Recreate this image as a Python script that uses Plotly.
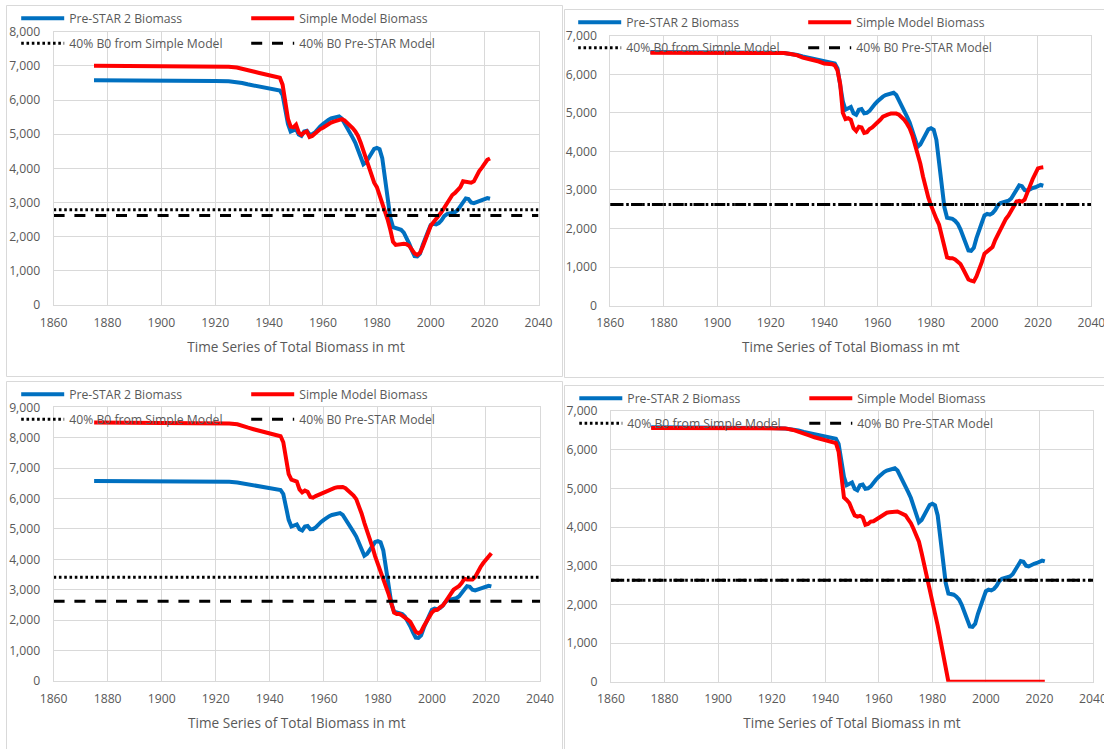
import plotly.graph_objects as go

W, H = 1104, 749

# ---- data -------------------------------------------------------------
years = [1875, 1880, 1885, 1890, 1895, 1900, 1905, 1910, 1915, 1920, 1925, 1928,
         1930, 1932, 1934, 1936, 1938, 1940, 1942, 1943, 1944,
         1945, 1946, 1947, 1948, 1949, 1950, 1951, 1952, 1953, 1954,
         1955, 1956, 1957, 1958, 1959, 1960, 1961, 1962, 1963, 1964,
         1965, 1966, 1967, 1968, 1969, 1970, 1971, 1972, 1973, 1974,
         1975, 1976, 1977, 1978, 1979, 1980, 1981, 1982, 1983, 1984,
         1985, 1986, 1987, 1988, 1989, 1990, 1991, 1992, 1993, 1994,
         1995, 1996, 1997, 1998, 1999, 2000, 2001, 2002, 2003, 2004,
         2005, 2006, 2007, 2008, 2009, 2010, 2011, 2012, 2013, 2014,
         2015, 2016, 2017, 2018, 2019, 2020, 2021, 2022]

prestar_biomass = [6580, 6580, 6580, 6580, 6580, 6575, 6565, 6565, 6565, 6560, 6550, 6530,
                   6500, 6460, 6430, 6410, 6380, 6340, 6330, 6320, 6280,
                   6150, 5750, 5300, 5080, 5120, 5150, 4990, 4950, 5080, 5100,
                   4990, 5000, 5050, 5150, 5230, 5300, 5370, 5420, 5460, 5480,
                   5500, 5520, 5460, 5330, 5200, 5050, 4900, 4750, 4550, 4300,
                   4120, 4180, 4300, 4450, 4570, 4600, 4560, 4300, 3650, 3050,
                   2550, 2280, 2260, 2250, 2200, 2120, 1980, 1800, 1600, 1430,
                   1420, 1500, 1750, 1980, 2150, 2340, 2380, 2360, 2400, 2480,
                   2600, 2660, 2680, 2700, 2720, 2780, 2900, 3030, 3120, 3100,
                   3000, 2980, 3020, 3050, 3070, 3100, 3130, 3110]

simple_biomass_a = [7000, 7000, 7000, 7000, 7000, 7000, 7000, 7000, 7000, 6980, 6975, 6950,
                    6920, 6870, 6840, 6800, 6760, 6720, 6690, 6670, 6650,
                    6450, 5950, 5450, 5220, 5200, 5280, 5050, 4980, 5050, 5080,
                    4920, 4950, 5020, 5100, 5150, 5190, 5250, 5300, 5340, 5370,
                    5400, 5430, 5440, 5400, 5330, 5280, 5180, 5080, 4950, 4750,
                    4500, 4250, 4000, 3800, 3580, 3450, 3220, 3000, 2750, 2500,
                    2200, 1850, 1760, 1780, 1790, 1790, 1780, 1730, 1620, 1510,
                    1470, 1530, 1700, 1900, 2100, 2320, 2420, 2500, 2620, 2720,
                    2850, 2980, 3080, 3220, 3280, 3350, 3450, 3620, 3610, 3580,
                    3580, 3620, 3780, 3920, 4020, 4150, 4250, 4290]

simple_biomass_b = [6560, 6560, 6560, 6560, 6560, 6560, 6560, 6560, 6560, 6560, 6550, 6520,
                    6490, 6430, 6400, 6370, 6330, 6280, 6270, 6260, 6230,
                    6100, 5750, 5000, 4840, 4860, 4820, 4600, 4530, 4640, 4620,
                    4480, 4500, 4580, 4620, 4680, 4750, 4820, 4900, 4940, 4960,
                    4980, 4990, 4980, 4950, 4900, 4820, 4720, 4600, 4420, 4200,
                    3950, 3680, 3350, 3050, 2800, 2600, 2400, 2250, 2100, 1800,
                    1450, 1250, 1230, 1230, 1200, 1150, 1080, 950, 800, 680,
                    650, 630, 760, 920, 1130, 1350, 1400, 1450, 1520, 1700,
                    1850, 1980, 2120, 2250, 2340, 2450, 2600, 2700, 2720, 2700,
                    2750, 2900, 3100, 3280, 3420, 3560, 3580, 3590]

simple_biomass_c = [8500, 8500, 8500, 8500, 8500, 8500, 8500, 8500, 8500, 8480, 8470, 8440,
                    8400, 8330, 8280, 8240, 8200, 8150, 8110, 8080, 8050,
                    7850, 7350, 6800, 6620, 6580, 6560, 6300, 6200, 6260, 6220,
                    6050, 6030, 6080, 6120, 6170, 6200, 6250, 6300, 6330, 6350,
                    6370, 6380, 6380, 6340, 6270, 6200, 6100, 5980, 5780, 5500,
                    5200, 4950, 4650, 4400, 4100, 3850, 3600, 3350, 3150, 2850,
                    2550, 2250, 2200, 2200, 2150, 2100, 2020, 1950, 1780, 1620,
                    1570, 1620, 1800, 1950, 2120, 2250, 2330, 2340, 2420, 2480,
                    2600, 2750, 2900, 3000, 3060, 3120, 3220, 3360, 3340, 3330,
                    3340, 3420, 3600, 3750, 3880, 4000, 4130, 4200]

simple_biomass_d = [6560, 6560, 6560, 6560, 6560, 6560, 6560, 6560, 6560, 6560, 6550, 6510,
                    6470, 6410, 6370, 6320, 6280, 6240, 6210, 6200, 6170,
                    5950, 5400, 4760, 4700, 4620, 4450, 4300, 4270, 4290, 4250,
                    4060, 4080, 4140, 4150, 4200, 4240, 4280, 4320, 4370, 4380,
                    4390, 4410, 4400, 4370, 4330, 4300, 4200, 4100, 3950, 3800,
                    3620, 3330, 3000, 2640, 2300, 2000, 1760, 1450, 1100, 760,
                    380, 0, 0, 0, 0, 0, 0, 0, 0, 0,
                    0, 0, 0, 0, 0, 0, 0, 0, 0, 0,
                    0, 0, 0, 0, 0, 0, 0, 0, 0, 0,
                    0, 0, 0, 0, 0, 0, 0, 0]

simple_series = [simple_biomass_a, simple_biomass_b, simple_biomass_c, simple_biomass_d]

# 40% of unfished biomass (reference points)
simple_b0_40 = [2790, 2625, 3410, 2625]
prestar_b0_40 = [2620, 2625, 2620, 2625]

y_max = [8000, 7000, 9000, 7000]
x_range = [1860, 2040]
x_ticks = [1860, 1880, 1900, 1920, 1940, 1960, 1980, 2000, 2020, 2040]

x_title = "Time Series of Total Biomass in mt"
names = ["Pre-STAR 2 Biomass", "Simple Model Biomass",
         "40% B0 from Simple Model", "40% B0 Pre-STAR Model"]

# ---- layout geometry (pixels) ------------------------------------------
# plot areas: left, right, top, bottom
plot_px = [(53.6, 538.5, 31.7, 305.0),
           (610.3, 1091.4, 35.7, 305.7),
           (53.6, 540.0, 407.3, 681.0),
           (611.0, 1093.0, 411.0, 681.7)]
# chart frames: left, right, top, bottom
frame_px = [(6.5, 562.5, 5.5, 376.5),
            (564.5, 1120, 9.5, 377.5),
            (6.5, 562.5, 381.5, 770),
            (564.5, 1120, 385.5, 770)]
# legend rows: x of first sample, y of row 1, y of row 2
legend_px = [(23.2, 18.3, 43.3),
             (580.2, 22.3, 47.7),
             (23.2, 394.3, 419.3),
             (581.3, 398.3, 423.3)]

FONT = "Open Sans"
GREY = "#595959"
GRID = "#D9D9D9"
BLUE = "#0070C0"
RED = "#FF0000"


def px_x(v):
    return v / W


def px_y(v):
    return 1 - v / H


fig = go.Figure()
layout = dict(width=W, height=H, margin=dict(l=0, r=0, t=0, b=0, pad=0),
              template="none",
              paper_bgcolor="white", plot_bgcolor="white",
              font=dict(family=FONT, color=GREY, size=12.2),
              shapes=[])

for i in range(4):
    n = i + 1
    xa = "x" if n == 1 else f"x{n}"
    ya = "y" if n == 1 else f"y{n}"
    leg_a = "legend" if i == 0 else f"legend{2 * i + 1}"
    leg_b = f"legend{2 * i + 2}"

    fig.add_trace(go.Scatter(x=years, y=prestar_biomass, mode="lines", name=names[0],
                             line=dict(color=BLUE, width=4), xaxis=xa, yaxis=ya,
                             legend=leg_a))
    fig.add_trace(go.Scatter(x=years, y=simple_series[i], mode="lines", name=names[1],
                             line=dict(color=RED, width=4), xaxis=xa, yaxis=ya,
                             legend=leg_a))
    fig.add_trace(go.Scatter(x=x_range, y=[simple_b0_40[i]] * 2, mode="lines", name=names[2],
                             line=dict(color="black", width=3, dash="2.6px,2.7px"),
                             xaxis=xa, yaxis=ya, legend=leg_b))
    fig.add_trace(go.Scatter(x=x_range, y=[prestar_b0_40[i]] * 2, mode="lines", name=names[3],
                             line=dict(color="black", width=3, dash="11px,9.8px"),
                             xaxis=xa, yaxis=ya, legend=leg_b))

    l, r, t, b = plot_px[i]
    axis_common = dict(showgrid=True, gridcolor=GRID, gridwidth=1, automargin=False,
                       showline=True, linecolor=GRID, linewidth=1, mirror=True,
                       zeroline=False, ticks="", ticklabeloverflow="allow",
                       tickfont=dict(family=FONT, color=GREY, size=12.2))
    layout[f"xaxis{n if n > 1 else ''}"] = dict(
        axis_common, domain=[px_x(l), px_x(r)], range=x_range, tickvals=x_ticks,
        anchor=ya, ticklabelstandoff=6,
        title=dict(text=x_title, font=dict(family=FONT, color=GREY, size=13.6), standoff=12))
    layout[f"yaxis{n if n > 1 else ''}"] = dict(
        axis_common, domain=[px_y(b), px_y(t)], range=[0, y_max[i]], dtick=1000,
        tickformat=",d", anchor=xa, ticklabelstandoff=10)

    fl, fr, ft, fb = frame_px[i]
    layout["shapes"].append(dict(type="rect", xref="paper", yref="paper",
                                 x0=px_x(fl), x1=px_x(fr), y0=px_y(fb), y1=px_y(ft),
                                 line=dict(color=GRID, width=1), layer="below"))

    lx, ly1, ly2 = legend_px[i]
    for key, yy in ((leg_a, ly1), (leg_b, ly2)):
        layout[key] = dict(orientation="h", x=px_x(lx - 7), xanchor="left",
                           y=px_y(yy), yanchor="middle", entrywidth=172, itemwidth=43,
                           entrywidthmode="pixels", bgcolor="rgba(0,0,0,0)",
                           borderwidth=0, font=dict(family=FONT, color=GREY, size=12.2),
                           traceorder="normal", itemclick=False)

fig.update_layout(**layout)
fig.update_layout(showlegend=True)
fig.write_html("out.html")
